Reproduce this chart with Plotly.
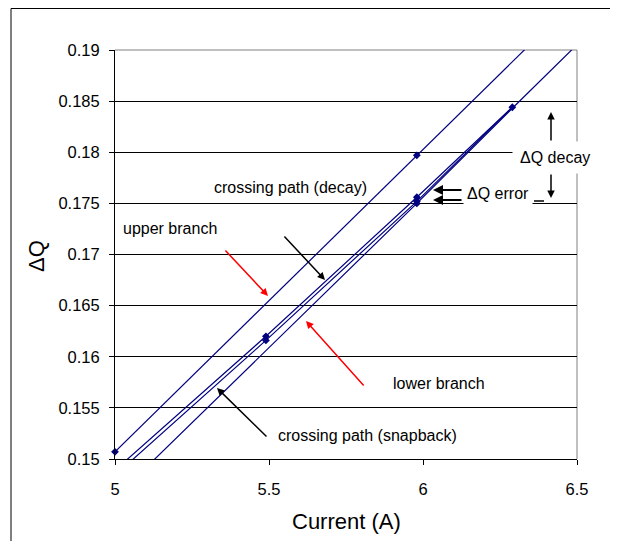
import plotly.graph_objects as go

# ---------------- data ----------------
upper_x = [5.0, 5.98, 6.40]
upper_y = [0.1507, 0.1797, 0.1921]

lower_x = [5.0, 5.98, 6.29, 6.55]
lower_y = [0.1462, 0.1750, 0.1843, 0.1920]

decay_x = [5.0, 5.49, 5.98, 6.29]
decay_y = [0.1489, 0.1620, 0.1756, 0.1844]

snap_x = [5.0, 5.49, 5.98, 6.29]
snap_y = [0.1484, 0.1616, 0.1752, 0.1844]

meas_x = [5.0, 5.98, 5.49, 5.49, 5.98, 5.98, 5.98, 6.29]
meas_y = [0.1507, 0.1797, 0.1620, 0.1616, 0.1756, 0.1752, 0.1750, 0.1844]

x_ticks = [5, 5.5, 6, 6.5]
y_ticks = [0.15, 0.155, 0.16, 0.165, 0.17, 0.175, 0.18, 0.185, 0.19]
y_tick_labels = ["0.15", "0.155", "0.16", "0.165", "0.17", "0.175", "0.18", "0.185", "0.19"]

NAVY = "#000080"
FONT = "Liberation Sans, Arial, sans-serif"

# page body has an 8px default margin; keep the figure inside the 618x541 window
OFF = 8
WIN_W, WIN_H = 618, 541
W, H = WIN_W - OFF, WIN_H - OFF
# plot-area geometry in window pixels, used to place annotations
L, R, T, B = 115, 577, 50, 459
XMIN, XMAX, YMIN, YMAX = 5.0, 6.5, 0.15, 0.19


def d(px, py):
    """window pixel position -> data coordinates"""
    return (XMIN + (px - L) / (R - L) * (XMAX - XMIN),
            YMIN + (B - py) / (B - T) * (YMAX - YMIN))


def p(px, py):
    """window pixel position -> paper coordinates"""
    return ((px - L) / (R - L), (B - py) / (B - T))


fig = go.Figure()
for xs, ys in [(upper_x, upper_y), (lower_x, lower_y), (decay_x, decay_y), (snap_x, snap_y)]:
    fig.add_trace(go.Scatter(x=xs, y=ys, mode="lines",
                             line=dict(color=NAVY, width=1.2), hoverinfo="skip"))
fig.add_trace(go.Scatter(x=meas_x, y=meas_y, mode="markers", cliponaxis=False,
                         marker=dict(symbol="diamond", size=6, color=NAVY)))

annotations = []


def text(t, px, py, bg=None, pad=1, size=16):
    x, y = d(px, py)
    annotations.append(dict(x=x, y=y, xref="x", yref="y", text=t, showarrow=False,
                            font=dict(size=size, family=FONT, color="black"),
                            bgcolor=bg if bg else "rgba(0,0,0,0)", borderpad=pad,
                            xanchor="center", yanchor="middle"))


def arrow(tail, tip, color="black", width=1.5, head=2, hsize=1.0):
    x, y = d(*tip)
    annotations.append(dict(x=x, y=y, xref="x", yref="y", text="", showarrow=True,
                            ax=tail[0] - tip[0], ay=tail[1] - tip[1],
                            axref="pixel", ayref="pixel",
                            arrowcolor=color, arrowwidth=width, arrowhead=head,
                            arrowsize=hsize, standoff=0, startstandoff=0))


text("crossing path (decay)", 290, 187)
text("upper branch", 170, 228)
text("lower branch", 439, 383)
text("crossing path (snapback)", 367, 435)
text("\u0394Q error", 498, 193, bg="white", pad=3)
text("\u0394Q decay", 555, 157, bg="white", pad=7)

arrow((283, 235), (325, 280))
arrow((224, 249), (268, 296), color="#ff0000")
arrow((365, 387), (306, 321), color="#ff0000")
arrow((268, 438), (217, 388))
arrow((463, 190), (433, 190), width=2)
arrow((463, 200), (433, 200), width=2)
arrow((551, 142), (551, 112))
arrow((551, 173), (551, 198))

# axis titles
tx, ty = p(36, 256)
annotations.append(dict(x=tx, y=ty, xref="paper", yref="paper", text="\u0394Q", showarrow=False,
                        textangle=-90, font=dict(size=22, family=FONT, color="black"),
                        xanchor="center", yanchor="middle"))
tx, ty = p(346, 521)
annotations.append(dict(x=tx, y=ty, xref="paper", yref="paper", text="Current (A)", showarrow=False,
                        font=dict(size=22, family=FONT, color="black"),
                        xanchor="center", yanchor="middle"))

shapes = []
# gray top/right plot border
shapes.append(dict(type="line", xref="paper", yref="paper", x0=0, x1=1, y0=1, y1=1,
                   line=dict(color="#808080", width=1), layer="below"))
shapes.append(dict(type="line", xref="paper", yref="paper", x0=1, x1=1, y0=0, y1=1,
                   line=dict(color="#808080", width=1), layer="below"))
# short mark after "ΔQ error"
a0 = p(534, 201)
a1 = p(544, 201)
shapes.append(dict(type="line", xref="paper", yref="paper", x0=a0[0], x1=a1[0], y0=a0[1], y1=a1[1],
                   line=dict(color="black", width=1.5)))
# outer chart frame (left and top edges; others fall outside the window)
f0 = p(11, 8.5)
f1 = p(WIN_W + 5, WIN_H + 5)
shapes.append(dict(type="line", xref="paper", yref="paper", x0=f0[0], x1=f0[0], y0=f1[1], y1=f0[1],
                   line=dict(color="black", width=1)))
shapes.append(dict(type="line", xref="paper", yref="paper", x0=f0[0], x1=f1[0], y0=f0[1], y1=f0[1],
                   line=dict(color="black", width=1)))

fig.update_layout(
    width=W, height=H,
    margin=dict(l=L - OFF, r=WIN_W - R, t=T - OFF, b=WIN_H - B),
    plot_bgcolor="white", paper_bgcolor="white",
    showlegend=False,
    font=dict(family=FONT, size=16.5, color="black"),
    annotations=annotations, shapes=shapes,
    xaxis=dict(range=[XMIN, XMAX], tickvals=x_ticks, ticktext=[str(v) for v in x_ticks],
               showline=True, linecolor="black", linewidth=1,
               ticks="outside", ticklen=5, tickcolor="black",
               showgrid=False, zeroline=False, ticklabelstandoff=10),
    yaxis=dict(range=[YMIN, YMAX], tickvals=y_ticks, ticktext=y_tick_labels,
               showline=True, linecolor="black", linewidth=1,
               ticks="outside", ticklen=5, tickcolor="black",
               showgrid=True, gridcolor="black", gridwidth=1, zeroline=False,
               ticklabelstandoff=6),
)

fig.write_html("out.html", config={"displayModeBar": False})
